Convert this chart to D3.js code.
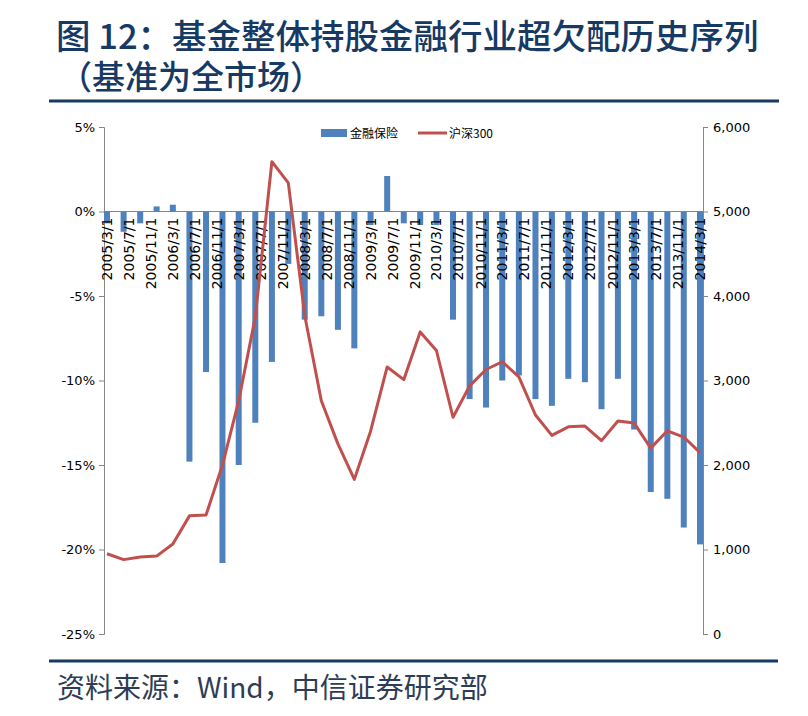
<!DOCTYPE html>
<html lang="zh">
<head>
<meta charset="UTF-8">
<title>基金整体持股金融行业超欠配历史序列</title>
<script src="https://d3js.org/d3.v7.min.js"></script>
<style>
html, body {
  margin: 0;
  padding: 0;
  background: white;
}
body {
  width: 808px;
  height: 716px;
  overflow: hidden;
}
.tick-label {
  font-family: 'DejaVu Sans', sans-serif;
  font-size: 13px;
  fill: #000;
}
.x-label {
  font-family: 'DejaVu Sans', sans-serif;
  font-size: 14px;
  fill: #000;
}
.legend-text {
  font-family: 'Noto Sans CJK SC', sans-serif;
  font-size: 12px;
  fill: #000;
}
</style>
</head>
<body>
<div id="chart"></div>
<script>

// ------------------------------
// Data
// ------------------------------

// quarterly observations
const dates = [
  "2005/3/1", "2005/6/1", "2005/9/1", "2005/12/1",
  "2006/3/1", "2006/6/1", "2006/9/1", "2006/12/1",
  "2007/3/1", "2007/6/1", "2007/9/1", "2007/12/1",
  "2008/3/1", "2008/6/1", "2008/9/1", "2008/12/1",
  "2009/3/1", "2009/6/1", "2009/9/1", "2009/12/1",
  "2010/3/1", "2010/6/1", "2010/9/1", "2010/12/1",
  "2011/3/1", "2011/6/1", "2011/9/1", "2011/12/1",
  "2012/3/1", "2012/6/1", "2012/9/1", "2012/12/1",
  "2013/3/1", "2013/6/1", "2013/9/1", "2013/12/1",
  "2014/3/1"
];

// 金融保险 超欠配 (%)
const finance = [
  -0.7, -1.2, -0.7, 0.3,
  0.4, -14.8, -9.5, -20.8,
  -15.0, -12.5, -8.9, -3.1,
  -6.4, -6.2, -7.0, -8.1,
  -0.8, 2.1, -0.7, -0.8,
  -0.8, -6.4, -11.1, -11.6,
  -10.0, -9.7, -11.1, -11.5,
  -9.9, -10.1, -11.7, -9.9,
  -12.9, -16.6, -17.0, -18.7,
  -19.7
];

// 沪深300
const hs300 = [
  950, 880, 912, 922,
  1065, 1398, 1408, 2000,
  2760, 3750, 5590, 5338,
  3770, 2760, 2250, 1830,
  2400, 3160, 3010, 3575,
  3355, 2565, 2936, 3130,
  3222, 3043, 2592, 2350,
  2452, 2461, 2288, 2521,
  2496, 2200, 2405, 2331,
  2146
];

const xTicks = [
  "2005/3/1", "2005/7/1", "2005/11/1", "2006/3/1", "2006/7/1", "2006/11/1",
  "2007/3/1", "2007/7/1", "2007/11/1", "2008/3/1", "2008/7/1", "2008/11/1",
  "2009/3/1", "2009/7/1", "2009/11/1", "2010/3/1", "2010/7/1", "2010/11/1",
  "2011/3/1", "2011/7/1", "2011/11/1", "2012/3/1", "2012/7/1", "2012/11/1",
  "2013/3/1", "2013/7/1", "2013/11/1", "2014/3/1"
];
const leftTicks = [5, 0, -5, -10, -15, -20, -25];
const rightTicks = [0, 1000, 2000, 3000, 4000, 5000, 6000];

const parse = d3.timeParse("%Y/%-m/%-d");

// ------------------------------
// Size
// ------------------------------

let totalWidth = 808;
let totalHeight = 716;
let plot = {left: 104, right: 703, top: 127, bottom: 634};

let svg = d3.select("#chart")
  .append("svg")
  .attr("width", totalWidth)
  .attr("height", totalHeight);

// ------------------------------
// Title + footer
// ------------------------------

let navy = "#163A64";

svg.append("text")
  .attr("x", 56)
  .attr("y", 49)
  .style("font-family", "'Noto Sans CJK SC', sans-serif")
  .style("font-size", "34.5px")
  .style("font-weight", 500)
  .style("fill", navy)
  .text("图 12：基金整体持股金融行业超欠配历史序列");

svg.append("text")
  .attr("x", 59)
  .attr("y", 89)
  .style("font-family", "'Noto Sans CJK SC', sans-serif")
  .style("font-size", "33px")
  .style("font-weight", 500)
  .style("fill", navy)
  .text("（基准为全市场）");

svg.append("line")
  .attr("x1", 49).attr("x2", 779)
  .attr("y1", 101).attr("y2", 101)
  .attr("stroke", navy)
  .attr("stroke-width", 3);

svg.append("line")
  .attr("x1", 49).attr("x2", 778)
  .attr("y1", 661).attr("y2", 661)
  .attr("stroke", navy)
  .attr("stroke-width", 3);

svg.append("text")
  .attr("x", 57)
  .attr("y", 698)
  .style("font-family", "'Noto Sans CJK SC', sans-serif")
  .style("font-size", "28px")
  .style("fill", "#2E3D55")
  .text("资料来源：Wind，中信证券研究部");

// ------------------------------
// Scales
// ------------------------------

let x = d3.scaleTime()
  .domain([parse("2005/3/1"), parse("2014/3/1")])
  .range([107, 700]);

let yLeft = d3.scaleLinear()
  .domain([-25, 5])
  .range([plot.bottom, plot.top]);

let yRight = d3.scaleLinear()
  .domain([0, 6000])
  .range([plot.bottom, plot.top]);

// ------------------------------
// Axes
// ------------------------------

let leftAxis = svg.append("g")
  .attr("transform", `translate(${plot.left},0)`)
  .call(d3.axisLeft(yLeft)
    .tickValues(leftTicks)
    .tickSize(5)
    .tickPadding(4)
    .tickFormat(d => d + "%"));

let rightAxis = svg.append("g")
  .attr("transform", `translate(${plot.right},0)`)
  .call(d3.axisRight(yRight)
    .tickValues(rightTicks)
    .tickSize(5)
    .tickPadding(5)
    .tickFormat(d3.format(",")));

[leftAxis, rightAxis].forEach(a => {
  a.select(".domain").attr("stroke", "#868686");
  a.selectAll(".tick line").attr("stroke", "#868686");
  a.selectAll(".tick text").attr("class", "tick-label").attr("fill", null);
});

// zero line
svg.append("line")
  .attr("x1", plot.left).attr("x2", plot.right)
  .attr("y1", yLeft(0)).attr("y2", yLeft(0))
  .attr("stroke", "#868686");

// ------------------------------
// Bars
// ------------------------------

let barW = 6;

svg.selectAll(".bar")
  .data(finance)
  .join("rect")
  .attr("class", "bar")
  .attr("x", (d, i) => x(parse(dates[i])) - barW / 2)
  .attr("y", d => yLeft(Math.max(0, d)))
  .attr("width", barW)
  .attr("height", d => Math.abs(yLeft(d) - yLeft(0)))
  .attr("fill", "#4F81BD");

// x labels (on top of bars)
svg.append("g")
  .selectAll("text")
  .data(xTicks)
  .join("text")
  .attr("class", "x-label")
  .attr("transform", d => `translate(${x(parse(d)) + 5},${yLeft(0) + 6}) rotate(-90)`)
  .style("text-anchor", "end")
  .text(d => d);

// ------------------------------
// Line
// ------------------------------

let line = d3.line()
  .x((d, i) => x(parse(dates[i])))
  .y(d => yRight(d));

svg.append("path")
  .datum(hs300)
  .attr("d", line)
  .attr("fill", "none")
  .attr("stroke", "#C0504D")
  .attr("stroke-width", 3)
  .attr("stroke-linejoin", "round");

// ------------------------------
// Legend
// ------------------------------

let legend = svg.append("g");

legend.append("rect")
  .attr("x", 321).attr("y", 129)
  .attr("width", 26).attr("height", 8)
  .attr("fill", "#4F81BD");

legend.append("text")
  .attr("class", "legend-text")
  .attr("x", 350).attr("y", 138)
  .text("金融保险");

legend.append("line")
  .attr("x1", 418).attr("x2", 447)
  .attr("y1", 133).attr("y2", 133)
  .attr("stroke", "#C0504D")
  .attr("stroke-width", 3);

legend.append("text")
  .attr("class", "legend-text")
  .attr("x", 449).attr("y", 138)
  .text("沪深300");

</script>
</body>
</html>
